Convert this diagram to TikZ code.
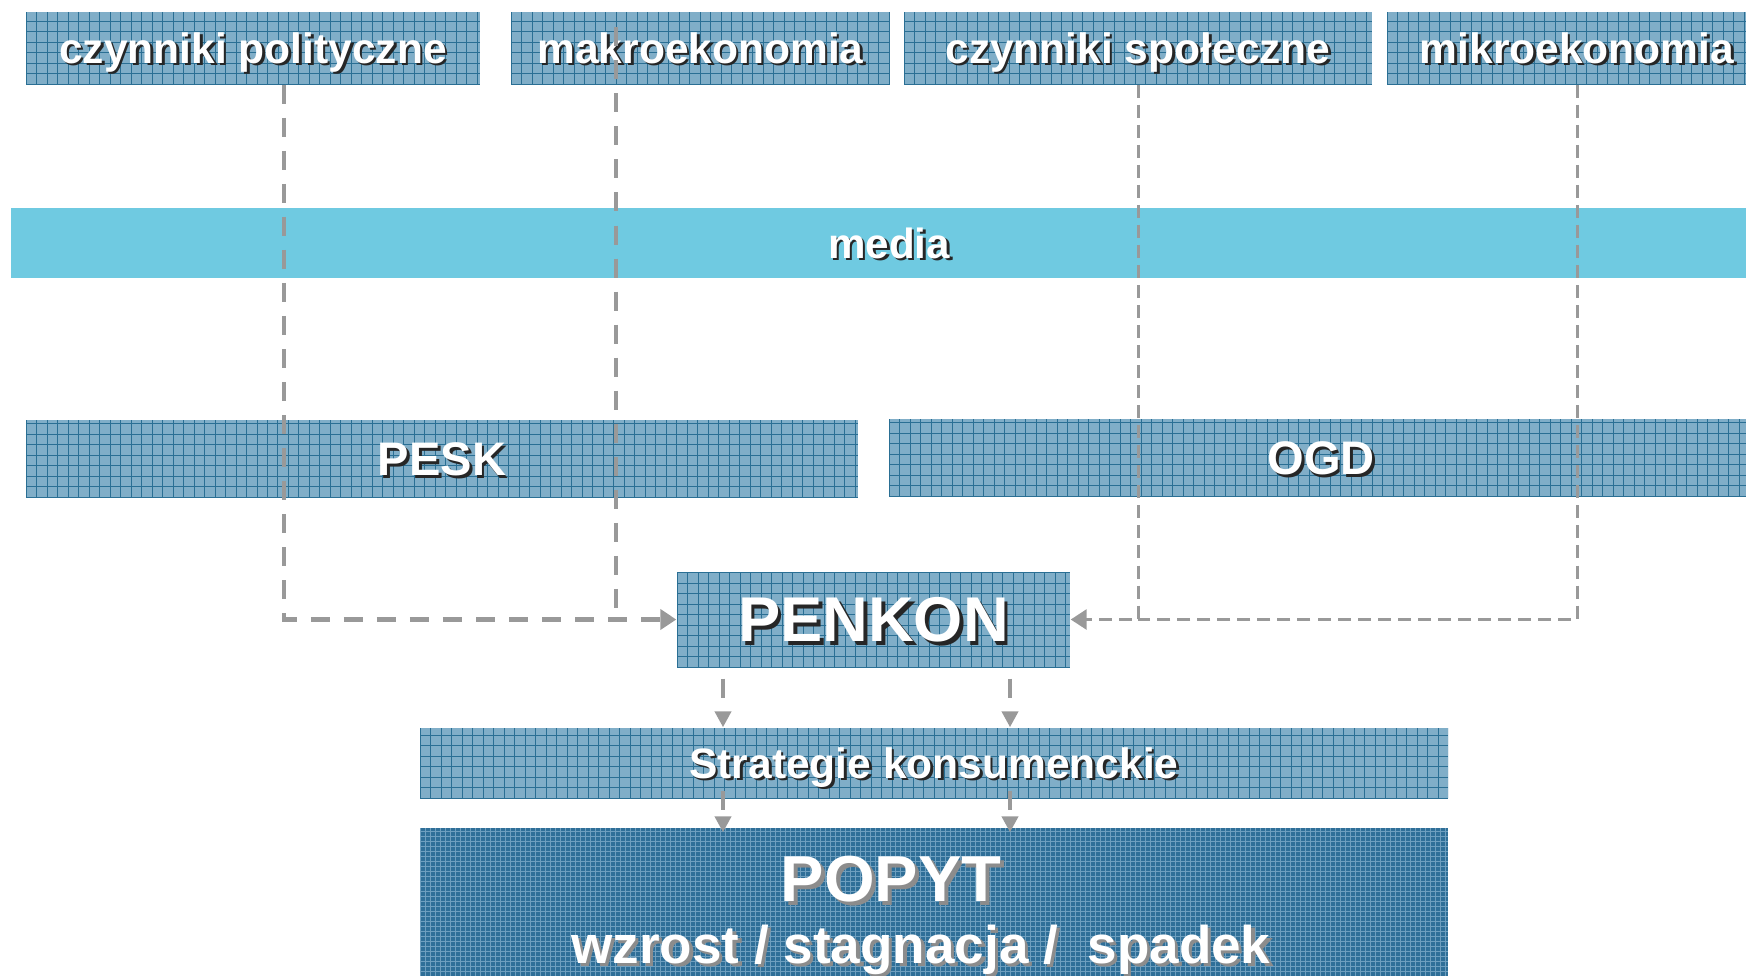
\documentclass[tikz,border=0pt]{standalone}
\usepackage{fontspec}
\setmainfont{Liberation Sans}
\usetikzlibrary{arrows.meta,positioning,calc}
\usepackage{xcolor}
\definecolor{boxblue}{HTML}{80AEC8}
\definecolor{gridblue}{HTML}{2A6F94}
\definecolor{popytblue}{HTML}{2F6F98}
\definecolor{popytgrid}{HTML}{6E9FBF}
\definecolor{mediablue}{HTML}{6FCAE1}
\definecolor{dashgray}{HTML}{999999}
% white text with a dark shadow
\newcommand{\shtxt}[2][black!85]{\makebox[0pt][l]{\kern0.06em\raisebox{-0.06em}{\color{#1}#2}}#2}
% grid lines inside a box: colour, step (cm)
\newcommand{\boxgrid}[2]{%
    \foreach \k in {0,...,220} {%
        \draw[#1, line width=0.28pt] ([xshift=\k*#2 cm]path picture bounding box.south west) -- ([xshift=\k*#2 cm]path picture bounding box.north west);
        \draw[#1, line width=0.28pt] ([yshift=\k*#2 cm]path picture bounding box.south west) -- ([yshift=\k*#2 cm]path picture bounding box.south east);
    }}

\begin{document}
\begin{tikzpicture}[
        factor/.style={fill=boxblue, inner sep=0pt, minimum height=0.72cm, text=white,
            font=\fontsize{12.1}{14}\selectfont\bfseries, text height=8.7pt, text depth=0pt,
            path picture={\boxgrid{gridblue}{0.105}}},
        popytbox/.style={factor, fill=popytblue, align=center, text height=, text depth=,
            path picture={\boxgrid{popytgrid}{0.05}}},
        thickdash/.style={dashgray, line width=1.4pt, dash pattern=on 5.4pt off 4pt},
        thindash/.style={dashgray, line width=0.85pt, dash pattern=on 3.7pt off 2pt},
        tip/.style={-{Triangle[length=0.16cm, width=0.2cm]}},
        smalltip/.style={-{Triangle[length=0.16cm, width=0.16cm]}}
    ]
    \useasboundingbox (0,0) rectangle (17.46,-9.75);

    % factors
    \node[factor, minimum width=4.54cm] (pol) at (2.53,-0.48) {\shtxt{czynniki polityczne}};
    \node[factor, minimum width=3.79cm] (makro) at (7.005,-0.48) {\shtxt{makroekonomia}};
    \node[factor, minimum width=4.68cm] (spol) at (11.38,-0.48) {\shtxt{czynniki społeczne}};
    \node[factor, minimum width=3.80cm] (mikro) at (15.77,-0.48) {\shtxt{mikroekonomia}};

    \node[fill=mediablue, inner sep=0pt, minimum width=17.56cm, minimum height=0.70cm, text=white,
        font=\fontsize{12}{14}\selectfont\bfseries, text height=8.6pt, text depth=0pt] (media) at (8.89,-2.43) {\shtxt{media}};

    \node[factor, minimum width=8.32cm, minimum height=0.77cm, font=\fontsize{13.4}{16}\selectfont\bfseries, text height=9.6pt] (pesk) at (4.42,-4.585) {\shtxt{PESK}};
    \node[factor, minimum width=8.64cm, minimum height=0.77cm, font=\fontsize{13.4}{16}\selectfont\bfseries, text height=9.6pt] (ogd) at (13.21,-4.575) {\shtxt{OGD}};

    \node[factor, minimum width=3.93cm, minimum height=0.95cm, font=\fontsize{18}{20}\selectfont\bfseries, text height=12.4pt] (penkon) at (8.735,-6.195) {\shtxt{PENKON}};

    \node[factor, minimum width=10.28cm, minimum height=0.70cm] (strat) at (9.34,-7.63) {\shtxt{Strategie konsumenckie}};
    \node[popytbox, minimum width=10.28cm, minimum height=1.78cm, font=\fontsize{15.1}{17.6}\selectfont\bfseries] (popyt) at (9.34,-9.17)
        {{\fontsize{18.5}{17.6}\selectfont\shtxt[black!45]{POPYT}\hspace*{0.86cm}}\\\shtxt[black!45]{wzrost / stagnacja /~ spadek}\hspace*{0.26cm}};

    % influences
    \coordinate (xpol) at (2.84,0);
    \coordinate (xmak) at (6.16,0);
    \coordinate (xa) at (7.23,0);
    \coordinate (xb) at (10.10,0);

    \draw[thickdash, tip] (pol.south -| xpol) |- (penkon.west);
    \draw[thickdash, shorten <=0.16cm] (makro.north -| xmak) -- (xmak |- penkon.west);
    \draw[thindash, tip] (spol.south) |- (penkon.east);
    \draw[thindash] (mikro.south) |- (spol.south |- penkon.east);

    \draw[thickdash, smalltip, shorten <=0.11cm] (penkon.south -| xa) -- (strat.north -| xa);
    \draw[thickdash, smalltip, shorten <=0.11cm] (penkon.south -| xb) -- (strat.north -| xb);
    \draw[thickdash, smalltip, shorten <=-0.08cm, shorten >=-0.05cm] (strat.south -| xa) -- (popyt.north -| xa);
    \draw[thickdash, smalltip, shorten <=-0.08cm, shorten >=-0.05cm] (strat.south -| xb) -- (popyt.north -| xb);
\end{tikzpicture}
\end{document}
